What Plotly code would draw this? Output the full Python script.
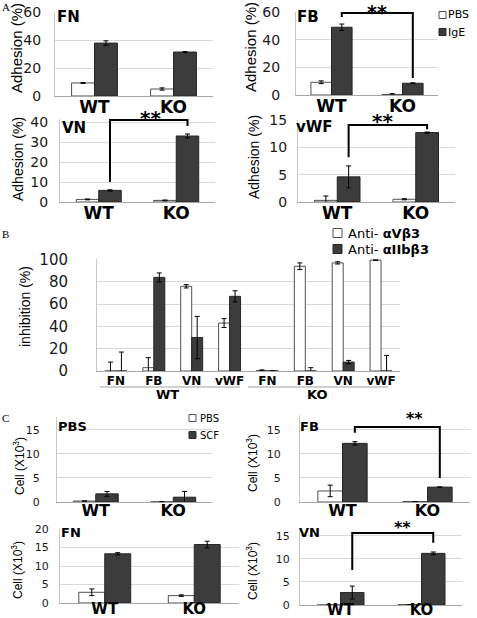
import plotly.graph_objects as go

W, H = 477, 618


def px(x):
    return x / W


def py(y):
    return 1 - y / H


# ---------------- data ----------------
groups = ["WT", "KO"]

# Panel A: adhesion (%)
a_fn_pbs = [9.3, 5.0]
a_fn_pbs_err = [0.3, 0.8]
a_fn_ige = [37.8, 31.4]
a_fn_ige_err = [1.6, 0.3]

a_fb_pbs = [9.2, 0.4]
a_fb_pbs_err = [1.0, 0.6]
a_fb_ige = [49.0, 8.5]
a_fb_ige_err = [2.3, 0.3]

a_vn_pbs = [1.3, 0.8]
a_vn_pbs_err = [0.2, 0.2]
a_vn_ige = [5.8, 33.0]
a_vn_ige_err = [0.3, 1.0]

a_vwf_pbs = [0.3, 0.5]
a_vwf_pbs_err = [0.8, 0.1]
a_vwf_ige = [4.6, 12.7]
a_vwf_ige_err = [2.0, 0.1]

# Panel B: inhibition (%)
b_groups = ["WT", "KO"]
b_substrates = ["FN", "FB", "VN", "vWF"]
b_avb3 = [0, 3, 76, 43, 0.5, 94, 97, 99.5]
b_avb3_err = [8, 9, 1.5, 4, 0.5, 3, 1, 0]
b_aiib = [0, 84, 30, 67, 0, 0, 8, 0]
b_aiib_err = [17, 4, 19, 5, 0.3, 3, 1.5, 14]

# Panel C: cells (x10^3)
c_pbs_pbs = [0.2, 0.05]
c_pbs_pbs_err = [0.0, 0.0]
c_pbs_scf = [1.7, 1.0]
c_pbs_scf_err = [0.5, 1.2]

c_fb_pbs = [2.3, 0.1]
c_fb_pbs_err = [1.2, 0.0]
c_fb_scf = [12.2, 3.1]
c_fb_scf_err = [0.35, 0.0]

c_fn_pbs = [2.9, 2.0]
c_fn_pbs_err = [0.9, 0.2]
c_fn_scf = [13.3, 15.8]
c_fn_scf_err = [0.3, 0.9]

c_vn_pbs = [0.0, 0.1]
c_vn_pbs_err = [0.0, 0.0]
c_vn_scf = [2.7, 11.2]
c_vn_scf_err = [1.4, 0.3]

# ---------------- style ----------------
WHITE_FILL = "#ffffff"
WHITE_LINE = "#505050"
DARK_FILL = "#3c3c3c"
DARK_LINE = "#262626"
GRID = "#d9d9d9"
SANS = "DejaVu Sans"
ARIAL = "Liberation Sans"
BARGAP = 0.42

fig = go.Figure()


def add_pair(i, x, v1, e1, v2, e2, n1, n2):
    ax = "x" if i == 1 else f"x{i}"
    ay = "y" if i == 1 else f"y{i}"
    fig.add_trace(go.Bar(
        x=x, y=v1, name=n1, xaxis=ax, yaxis=ay, showlegend=False,
        marker=dict(color=WHITE_FILL, line=dict(color=WHITE_LINE, width=1)),
        error_y=dict(type="data", array=e1, color="black", thickness=1, width=2.5),
    ))
    fig.add_trace(go.Bar(
        x=x, y=v2, name=n2, xaxis=ax, yaxis=ay, showlegend=False,
        marker=dict(color=DARK_FILL, line=dict(color=DARK_LINE, width=1)),
        error_y=dict(type="data", array=e2, color="black", thickness=1, width=2.5),
    ))


def set_axes(i, xl, xr, yt, yb, yrange, dtick, tick_size=13, cat_size=17,
             ystand=8, xstand=-4, ytick_family=SANS):
    xk = "xaxis" if i == 1 else f"xaxis{i}"
    yk = "yaxis" if i == 1 else f"yaxis{i}"
    yid = "y" if i == 1 else f"y{i}"
    xid = "x" if i == 1 else f"x{i}"
    fig.update_layout(**{
        xk: dict(domain=[px(xl), px(xr)], anchor=yid, showline=True, automargin=False,
                 linecolor="#a6a6a6", linewidth=1, showgrid=False, ticks="", zeroline=False,
                 tickfont=dict(family=SANS, size=cat_size, color="black", weight="bold"),
                 ticklabelstandoff=xstand, fixedrange=True),
        yk: dict(domain=[py(yb), py(yt)], anchor=xid, range=yrange, dtick=dtick,
                 tick0=0, showline=True, linecolor="#c8c8c8", linewidth=1, automargin=False,
                 showgrid=True, gridcolor=GRID, gridwidth=1, zeroline=False,
                 ticks="", tickfont=dict(family=ytick_family, size=tick_size, color="#1a1a1a"),
                 ticklabelstandoff=ystand, fixedrange=True),
    })


# ---- Panel A ----
add_pair(1, groups, a_fn_pbs, a_fn_pbs_err, a_fn_ige, a_fn_ige_err, "PBS", "IgE")
set_axes(1, 55, 213, 12, 96, [0, 60], 20, tick_size=14, ystand=10)
add_pair(2, groups, a_fb_pbs, a_fb_pbs_err, a_fb_ige, a_fb_ige_err, "PBS", "IgE")
set_axes(2, 296, 438, 12, 95, [0, 60], 20, tick_size=14, ystand=12)
add_pair(3, groups, a_vn_pbs, a_vn_pbs_err, a_vn_ige, a_vn_ige_err, "PBS", "IgE")
set_axes(3, 60, 215, 119, 202, [0, 41.5], 10, tick_size=14, ystand=8)
add_pair(4, groups, a_vwf_pbs, a_vwf_pbs_err, a_vwf_ige, a_vwf_ige_err, "PBS", "IgE")
set_axes(4, 298, 455, 120, 202, [0, 15], 5, tick_size=14, ystand=7)

# ---- Panel B ----
b_x = [f"{g} {s}" for g in b_groups for s in b_substrates]
add_pair(5, b_x, b_avb3, b_avb3_err, b_aiib, b_aiib_err, "Anti- αVβ3", "Anti- αIIbβ3")
set_axes(5, 97, 400, 259, 371, [0, 100.5], 20, tick_size=15, cat_size=12, ystand=25, xstand=-1)
fig.update_layout(xaxis5=dict(tickmode="array", tickvals=b_x,
                              ticktext=b_substrates * len(b_groups)))

# ---- Panel C ----
add_pair(6, groups, c_pbs_pbs, c_pbs_pbs_err, c_pbs_scf, c_pbs_scf_err, "PBS", "SCF")
set_axes(6, 57, 212, 417, 502, [0, 17.7], 5, tick_size=11, ystand=14, cat_size=16, xstand=-6)
add_pair(7, groups, c_fb_pbs, c_fb_pbs_err, c_fb_scf, c_fb_scf_err, "PBS", "SCF")
set_axes(7, 300, 470, 415, 502, [0, 18.1], 5, tick_size=11, ystand=16, cat_size=16, xstand=-6)
add_pair(8, groups, c_fn_pbs, c_fn_pbs_err, c_fn_scf, c_fn_scf_err, "PBS", "SCF")
set_axes(8, 60, 239, 529, 603, [0, 20], 5, tick_size=11, ystand=8, cat_size=15, xstand=-8)
add_pair(9, groups, c_vn_pbs, c_vn_pbs_err, c_vn_scf, c_vn_scf_err, "PBS", "SCF")
set_axes(9, 300, 462, 528, 605, [0, 16.7], 5, tick_size=11, ystand=7, cat_size=15, xstand=-9)

fig.update_layout(
    template="none",
    width=W, height=H, margin=dict(l=0, r=0, t=0, b=0, pad=0, autoexpand=False),
    paper_bgcolor="white", plot_bgcolor="white",
    barmode="group", bargap=BARGAP, bargroupgap=0,
    showlegend=False,
)

ann = []
shapes = []


def text(x, y, s, size, family=SANS, bold=False, xanchor="center", yanchor="middle",
         angle=0, color="black"):
    ann.append(dict(x=px(x), y=py(y), xref="paper", yref="paper", text=s, showarrow=False,
                    xanchor=xanchor, yanchor=yanchor, textangle=angle,
                    font=dict(family=family, size=size, color=color,
                              weight="bold" if bold else "normal")))


# panel letters
text(0, 7, "A", 11, family="Liberation Serif", xanchor="left")
text(0, 234, "B", 11, family="Liberation Serif", xanchor="left")
text(0, 418, "C", 11, family="Liberation Serif", xanchor="left")

# panel titles
for (x, y, s, sz) in [(55, 17, "FN", 15), (295, 17, "FB", 15), (60, 128, "VN", 15),
                      (294, 127, "vWF", 15), (56, 427, "PBS", 13), (298, 427, "FB", 13),
                      (59, 532, "FN", 13), (297, 532, "VN", 13)]:
    text(x, y, s, sz, bold=True, xanchor="left")

# y-axis titles
for (x, y, s, sz) in [(17, 48, "Adhesion (%)", 15), (250, 47, "Adhesion (%)", 15),
                      (18, 159, "Adhesion (%)", 14), (254, 157, "Adhesion (%)", 14),
                      (25, 307, "inhibition (%)", 14),
                      (19, 466, "Cell (X10<sup>3</sup>)", 12), (252, 463, "Cell (X10<sup>3</sup>)", 12),
                      (17, 570, "Cell (X10<sup>3</sup>)", 12), (252, 571, "Cell (X10<sup>3</sup>)", 12)]:
    text(x, y, s, sz, family=ARIAL, angle=-90)

# significance stars
for (x, y, sz) in [(377, 12, 19), (150, 118, 20), (382, 121, 20), (414, 418, 16), (402, 527, 16)]:
    text(x, y, "**", sz, bold=True)

# brackets in data coordinates (left bar -> right bar, second series)
off = (1 - BARGAP) / 4
for (i, top, lb, rb) in [(2, 59.3, 56.4, 12.3), (3, 41.0, 10.0, 38.0), (4, 14.1, 8.2, 13.3),
                         (7, 15.6, 14.4, 5.0), (9, 15.6, 7.6, 13.5)]:
    xr, yr = f"x{i}", f"y{i}"
    path = f"M {0 + off},{lb} L {0 + off},{top} L {1 + off},{top} L {1 + off},{rb}"
    shapes.append(dict(type="path", path=path, xref=xr, yref=yr,
                       line=dict(color="black", width=2)))

# Panel B group labels and underlines
text(167, 394, "WT", 13, bold=True)
text(317, 394, "KO", 13, bold=True)
for (x0, x1) in [(100, 240), (248, 388)]:
    shapes.append(dict(type="line", xref="paper", yref="paper", x0=px(x0), x1=px(x1),
                       y0=py(387), y1=py(387), line=dict(color="#c0c0c0", width=1.5)))


# manual legends
def legend_item(x, y, size, fill, label, fsize, tx):
    shapes.append(dict(type="rect", xref="paper", yref="paper",
                       x0=px(x), x1=px(x + size), y0=py(y + size / 2), y1=py(y - size / 2),
                       fillcolor=fill, line=dict(color=WHITE_LINE if fill == WHITE_FILL else DARK_LINE, width=1)))
    text(tx, y, label, fsize, family=SANS, xanchor="left")


legend_item(439, 15, 7, WHITE_FILL, "PBS", 11, 446)
legend_item(439, 32, 7, DARK_FILL, "IgE", 11, 446)
legend_item(333, 233, 9, WHITE_FILL, "Anti- <b>αVβ3</b>", 13, 346)
legend_item(333, 249, 9, DARK_FILL, "Anti- <b>αIIbβ3</b>", 13, 346)
legend_item(189, 418, 7, WHITE_FILL, "PBS", 10, 198)
legend_item(189, 435, 7, DARK_FILL, "SCF", 10, 198)

fig.update_layout(annotations=ann, shapes=shapes)
fig.write_html(
    "out.html",
    config={"displayModeBar": False, "staticPlot": True},
    post_script="document.body.style.margin='0px';document.body.style.padding='0px';"
                "document.documentElement.style.overflow='hidden';",
)
